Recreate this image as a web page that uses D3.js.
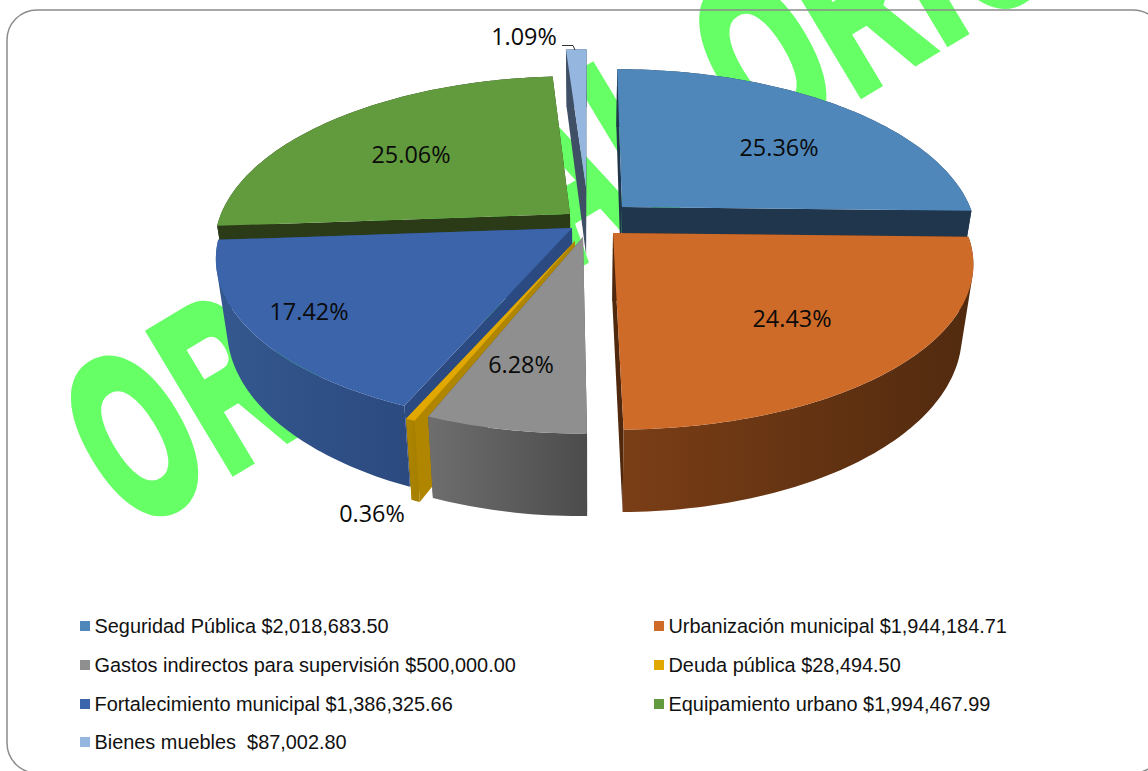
<!DOCTYPE html>
<html>
<head>
<meta charset="utf-8">
<script src="https://cdn.jsdelivr.net/npm/d3@7"></script>
<style>
  html, body { margin: 0; padding: 0; background: #fff; }
  svg { display: block; }
  text { white-space: pre; }
</style>
</head>
<body>
<div id="chart"></div>
<script>
const categories = ['Seguridad Pública', 'Urbanización municipal', 'Gastos indirectos para supervisión', 'Deuda pública', 'Fortalecimiento municipal', 'Equipamiento urbano', 'Bienes muebles ']
const amounts = [2018683.50, 1944184.71, 500000.00, 28494.50, 1386325.66, 1994467.99, 87002.80]

// slice styling, same order as the categories
const topColors = ['#4f87bb', '#cf6b28', '#8f8f8f', '#e0a800', '#3b64aa', '#629a3e', '#95b6de']
const cutColors = ['#1f364d', '#4f280e', '#505050', '#b08600', '#2c4a82', '#2b3b18', '#3f4f65']
const wallColors = [
  ['#1f364d', '#1f364d'], ['#7a3e16', '#512a0f'], ['#6e6e6e', '#4c4c4c'], ['#b08600', '#a88000'],
  ['#34588f', '#2b4a80'], ['#2b3b18', '#2b3b18'], ['#3f4f65', '#3f4f65']
]
// exploded apex of every slice, in px
const apexes = [[622, 207], [613, 233], [583, 237], [575, 241], [572, 228], [570, 214], [586, 187]]
const radii = [348, 354, 345, 354, 350, 349, 354]
const labelPos = [[779, 148], [792, 319], [521, 365], [372, 514], [309, 312], [411, 155], [524, 37]]
const drawOrder = [6, 5, 0, 4, 3, 2, 1]
const legendCols = [80, 654]
const legendRows = [626, 665, 704, 742]

const width = 1148
const height = 771
const vanishX = 590
const radiusY = 162
const persp = 0.176
const thickness = 68
const bottomShrink = 0.97

const money = d3.format('$,.2f')
const percent = d3.format('.2%')
const total = d3.sum(amounts)
const arcs = d3.pie().sort(null)(amounts)

const svg = d3.select('#chart').append('svg')
  .attr('width', width)
  .attr('height', height)

const defs = svg.append('defs')

// watermark goes under everything
svg.append('text')
  .attr('transform', 'translate(132,530) rotate(-31) scale(0.57,1)')
  .attr('font-family', 'Liberation Sans')
  .attr('font-weight', 700)
  .attr('font-size', 230)
  .attr('letter-spacing', 11.3)
  .attr('fill', '#66ff66')
  .attr('stroke', '#66ff66')
  .attr('stroke-width', 12)
  .text('ORIGINAL ORIGINAL')

svg.append('rect')
  .attr('x', 7)
  .attr('y', 10)
  .attr('width', 1156)
  .attr('height', 763)
  .attr('rx', 30)
  .attr('fill', 'none')
  .attr('stroke', '#8c8c8c')
  .attr('stroke-width', 1.5)

// ground plane point -> screen, angle clockwise from the top
function project (i, angle, bottom) {
  const apex = apexes[i]
  const u = Math.sin(angle)
  const v = -Math.cos(angle)
  const s = 1 / (1 - persp * v)
  let x = vanishX + (apex[0] - vanishX + radii[i] * u) * s
  let y = apex[1] + radiusY * v * s
  if (bottom) {
    x = vanishX + (x - vanishX) * bottomShrink
    y += thickness * s
  }
  return [x, y]
}

function apexBottom (apex) {
  return [vanishX + (apex[0] - vanishX) * bottomShrink, apex[1] + thickness]
}

function sweep (d) {
  const n = Math.max(2, Math.ceil((d.endAngle - d.startAngle) / 0.02))
  return d3.range(n + 1).map(i => d.startAngle + (d.endAngle - d.startAngle) * i / n)
}

const line = d3.line()
const closed = pts => line(pts) + 'Z'
const pie3d = svg.append('g')

// rim as one path of same-wound quads, so the silhouette between top and bottom stays filled
function rimPath (top, low) {
  return d3.range(top.length - 1).map(k => {
    const quad = [top[k], top[k + 1], low[k + 1], low[k]]
    return closed(d3.polygonArea(quad) < 0 ? quad.reverse() : quad)
  }).join('')
}

drawOrder.forEach(i => {
  const d = arcs[i]
  const apex = apexes[i]
  const angles = sweep(d)
  const top = angles.map(a => project(i, a, false))
  const low = angles.map(a => project(i, a, true))
  const slice = pie3d.append('g')

  const grad = defs.append('linearGradient')
    .attr('id', 'wall' + i)
    .attr('gradientUnits', 'userSpaceOnUse')
    .attr('x1', d3.min(top, p => p[0]))
    .attr('x2', d3.max(top, p => p[0]))
    .attr('y1', 0)
    .attr('y2', 0)
  grad.append('stop').attr('offset', 0).attr('stop-color', wallColors[i][0])
  grad.append('stop').attr('offset', 1).attr('stop-color', wallColors[i][1])

  // the two cut faces
  ;[d.startAngle, d.endAngle].forEach(a => {
    slice.append('path')
      .attr('d', closed([project(i, a, false), apex, apexBottom(apex), project(i, a, true)]))
      .attr('fill', cutColors[i])
  })

  slice.append('path')
    .attr('d', rimPath(top, low))
    .attr('fill', 'url(#wall' + i + ')')

  slice.append('path')
    .attr('d', closed([apex].concat(top)))
    .attr('fill', topColors[i])
})

svg.append('g').selectAll('text')
  .data(arcs)
  .enter().append('text')
  .attr('x', (d, i) => labelPos[i][0])
  .attr('y', (d, i) => labelPos[i][1])
  .attr('dy', '.36em')
  .attr('text-anchor', 'middle')
  .attr('font-family', 'Open Sans')
  .attr('font-size', 23.4)
  .attr('fill', '#0a0a0a')
  .text(d => percent(d.value / total))

// leader for the smallest exploded slice
svg.append('path')
  .attr('d', line([[562, 45.5], [573, 45.5], [575, 50]]))
  .attr('fill', 'none')
  .attr('stroke', '#333')
  .attr('stroke-width', 1)

const legend = svg.append('g').selectAll('g')
  .data(categories)
  .enter().append('g')
  .attr('transform', (d, i) => 'translate(' + legendCols[i % 2] + ',' + legendRows[Math.floor(i / 2)] + ')')

legend.append('rect')
  .attr('x', 0)
  .attr('y', -5)
  .attr('width', 10)
  .attr('height', 10)
  .attr('fill', (d, i) => topColors[i])

legend.append('text')
  .attr('x', 14.5)
  .attr('dy', '.35em')
  .attr('font-family', 'Liberation Sans')
  .attr('font-size', 19.9)
  .attr('fill', '#111')
  .text((d, i) => d + ' ' + money(amounts[i]))
</script>
</body>
</html>
